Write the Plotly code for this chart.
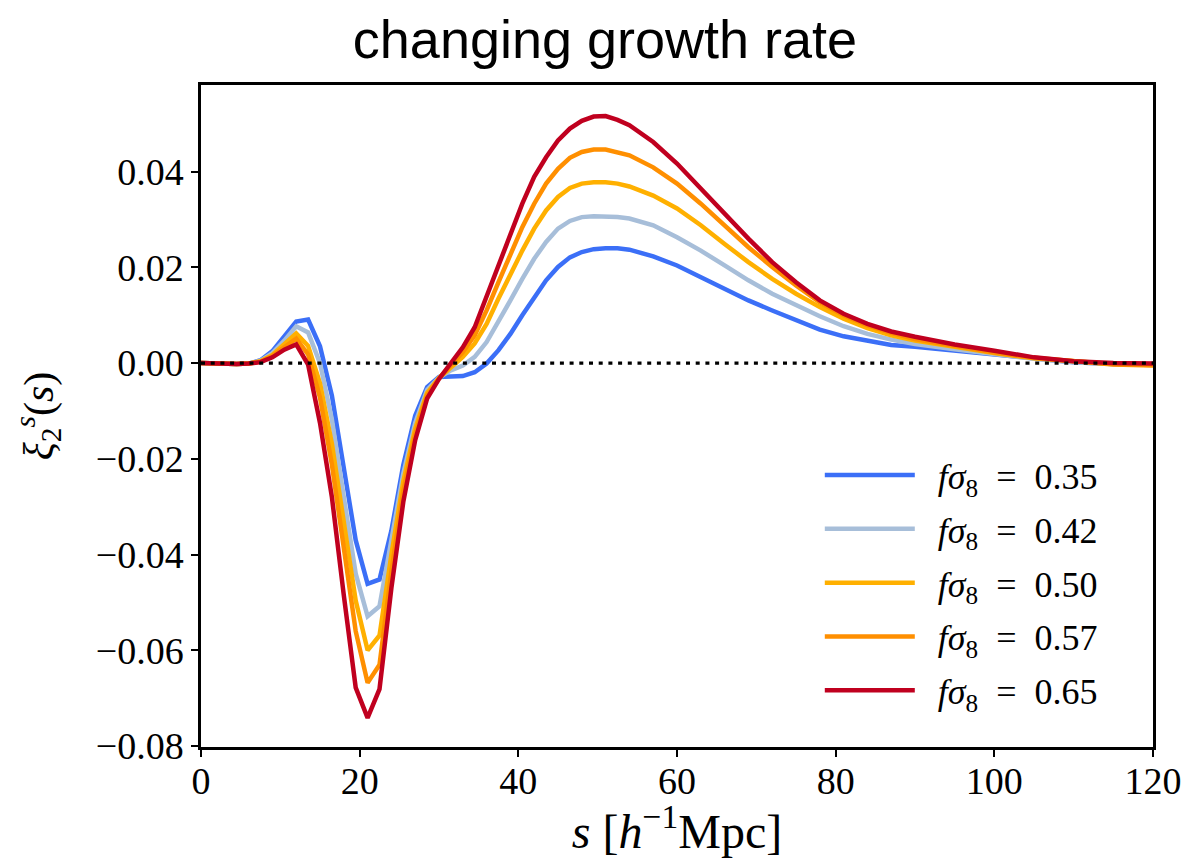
import plotly.graph_objects as go

# separation s [h^-1 Mpc]
s = [0, 1.5, 3, 4.5, 6, 7.5, 9, 10.5, 12, 13.5, 15, 16.5, 18, 19.5, 21, 22.5,
     24, 25.5, 27, 28.5, 30, 31.5, 33, 34.5, 36, 37.5, 39, 40.5, 42, 43.5, 45,
     46.5, 48, 49.5, 51, 52.5, 54, 57, 60, 63, 66, 69, 72, 75, 78, 81, 84, 87,
     90, 95, 100, 105, 110, 115, 120]

# quadrupole xi_2^s(s) for each growth rate f*sigma_8
xi2_035 = [0.0000, -0.0001, -0.0002, -0.0002, -0.0001, 0.0006, 0.0025, 0.0056,
           0.0087, 0.0091, 0.0035, -0.0068, -0.0217, -0.0370, -0.0461, -0.0452,
           -0.0350, -0.0213, -0.0110, -0.0050, -0.0029, -0.0028, -0.0027, -0.0019,
           -0.0001, 0.0027, 0.0061, 0.0100, 0.0138, 0.0173, 0.0201, 0.0221,
           0.0232, 0.0238, 0.0240, 0.0240, 0.0237, 0.0223, 0.0204, 0.0180,
           0.0155, 0.0131, 0.0110, 0.0089, 0.0070, 0.0056, 0.0046, 0.0038,
           0.0034, 0.0026, 0.0017, 0.0008, 0.0002, -0.0002, -0.0003]
xi2_042 = [0.0000, -0.0001, -0.0002, -0.0002, -0.0001, 0.0005, 0.0021, 0.0047,
           0.0077, 0.0064, 0.0000, -0.0118, -0.0280, -0.0440, -0.0529, -0.0508,
           -0.0370, -0.0231, -0.0125, -0.0056, -0.0030, -0.0015, -0.0005, 0.0013,
           0.0044, 0.0086, 0.0131, 0.0176, 0.0218, 0.0253, 0.0281, 0.0297,
           0.0305, 0.0307, 0.0307, 0.0305, 0.0302, 0.0288, 0.0263, 0.0235,
           0.0204, 0.0173, 0.0145, 0.0121, 0.0098, 0.0077, 0.0061, 0.0049,
           0.0040, 0.0029, 0.0019, 0.0009, 0.0002, -0.0002, -0.0003]
xi2_050 = [0.0000, -0.0001, -0.0002, -0.0002, -0.0001, 0.0004, 0.0017, 0.0039,
           0.0062, 0.0036, -0.0042, -0.0168, -0.0336, -0.0496, -0.0600, -0.0569,
           -0.0400, -0.0247, -0.0137, -0.0062, -0.0031, -0.0008, 0.0013, 0.0041,
           0.0082, 0.0135, 0.0187, 0.0235, 0.0281, 0.0319, 0.0347, 0.0366,
           0.0375, 0.0378, 0.0378, 0.0375, 0.0369, 0.0350, 0.0323, 0.0288,
           0.0249, 0.0211, 0.0176, 0.0145, 0.0117, 0.0093, 0.0073, 0.0058,
           0.0047, 0.0033, 0.0021, 0.0010, 0.0003, -0.0002, -0.0004]
xi2_057 = [0.0000, -0.0001, -0.0002, -0.0002, -0.0001, 0.0003, 0.0015, 0.0033,
           0.0051, 0.0018, -0.0072, -0.0212, -0.0392, -0.0560, -0.0668, -0.0630,
           -0.0435, -0.0267, -0.0148, -0.0067, -0.0032, -0.0005, 0.0023, 0.0058,
           0.0110, 0.0169, 0.0229, 0.0284, 0.0333, 0.0375, 0.0406, 0.0429,
           0.0441, 0.0446, 0.0446, 0.0441, 0.0434, 0.0409, 0.0375, 0.0333,
           0.0288, 0.0242, 0.0201, 0.0162, 0.0127, 0.0100, 0.0079, 0.0063,
           0.0050, 0.0035, 0.0022, 0.0011, 0.0003, -0.0003, -0.0005]
xi2_065 = [0.0000, -0.0001, -0.0002, -0.0002, -0.0001, 0.0002, 0.0012, 0.0028,
           0.0039, -0.0003, -0.0125, -0.0280, -0.0485, -0.0678, -0.0741, -0.0681,
           -0.0470, -0.0290, -0.0161, -0.0074, -0.0033, 0.0002, 0.0033, 0.0075,
           0.0138, 0.0201, 0.0270, 0.0333, 0.0389, 0.0430, 0.0465, 0.0490,
           0.0506, 0.0515, 0.0516, 0.0508, 0.0497, 0.0462, 0.0417, 0.0364,
           0.0312, 0.0260, 0.0211, 0.0169, 0.0131, 0.0103, 0.0082, 0.0066,
           0.0055, 0.0039, 0.0026, 0.0012, 0.0004, 0.0000, -0.0001]

fsigma8 = ["0.35", "0.42", "0.50", "0.57", "0.65"]
series = [xi2_035, xi2_042, xi2_050, xi2_057, xi2_065]
colors = ["#3b6ff7", "#a7bed9", "#ffb000", "#ff8f00", "#c0001f"]

x_ticks = [0, 20, 40, 60, 80, 100, 120]
y_ticks = [-0.08, -0.06, -0.04, -0.02, 0.00, 0.02, 0.04]
y_ticktext = ["\u22120.08", "\u22120.06", "\u22120.04", "\u22120.02", "0.00", "0.02", "0.04"]

SERIF = "Liberation Serif, DejaVu Serif, serif"

fig = go.Figure()
for i, (label, ys, col) in enumerate(zip(fsigma8, series, colors)):
    fig.add_trace(go.Scatter(
        x=s, y=ys, mode="lines",
        line=dict(color=col, width=4.5),
        name=f"\u2002<i>f\u03c3</i><sub>8</sub>\u2002=\u2002{label}",
        legendgroup=f"g{i}",
    ))

# zero reference line
fig.add_trace(go.Scatter(
    x=[0, 120], y=[0, 0], mode="lines",
    line=dict(color="black", width=3.3, dash="4px,5.7px"),
    showlegend=False, hoverinfo="skip",
))

fig.update_layout(
    width=1187, height=858,
    margin=dict(l=201, r=34, t=85, b=111, autoexpand=False),
    paper_bgcolor="white", plot_bgcolor="white",
    title=dict(
        text="changing growth rate",
        font=dict(family="Liberation Sans, Arial, sans-serif", size=54, color="black"),
        x=605 / 1187, xanchor="center", xref="container",
        y=1 - 39 / 858, yanchor="middle", yref="container",
    ),
    legend=dict(
        x=0.650, xanchor="left", y=0.456, yanchor="top",
        bgcolor="rgba(0,0,0,0)", borderwidth=0,
        font=dict(family=SERIF, size=36, color="black"),
        itemwidth=90, tracegroupgap=4,
    ),
    font=dict(family=SERIF, color="black"),
)

fig.update_xaxes(
    range=[0, 120], tickvals=x_ticks, ticktext=[str(v) for v in x_ticks],
    showgrid=False, zeroline=False,
    showline=True, linecolor="black", linewidth=2.5, mirror=True,
    ticks="outside", ticklen=7, tickwidth=1.5, tickcolor="black",
    ticklabelstandoff=-8, ticklabeloverflow="allow",
    tickfont=dict(family=SERIF, size=38, color="black"),
    title=dict(text="<i>s</i> [<i>h</i><sup>\u22121</sup>Mpc]",
               font=dict(family=SERIF, size=48, color="black"), standoff=4),
)
fig.update_yaxes(
    range=[-0.0802, 0.0581], tickvals=y_ticks, ticktext=y_ticktext,
    showgrid=False, zeroline=False,
    showline=True, linecolor="black", linewidth=2.5, mirror=True,
    ticks="outside", ticklen=7, tickwidth=1.5, tickcolor="black",
    tickfont=dict(family=SERIF, size=38, color="black"),
    title=dict(text="<i>\u03be</i><sub>2</sub><sup><i>s</i></sup>(<i>s</i>)",
               font=dict(family=SERIF, size=42, color="black"), standoff=30),
)

fig.write_html("out.html")
